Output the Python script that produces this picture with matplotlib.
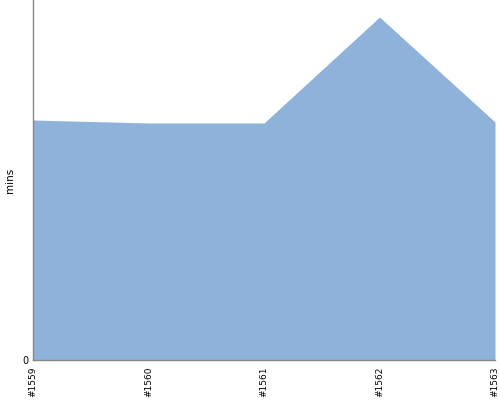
import matplotlib
matplotlib.use('Agg')
import matplotlib.pyplot as plt

builds = ['#1559', '#1560', '#1561', '#1562', '#1563']
mins = [24.0, 23.7, 23.7, 34.3, 23.8]

fig = plt.figure(figsize=(5, 4), dpi=100)
ax = fig.add_axes([0.066, 0.1, 0.924, 0.9])

x = range(len(builds))
ax.fill_between(x, mins, 0, color='#8fb2da', linewidth=0)

ax.set_xlim(0, len(builds) - 1)
ax.set_ylim(0, 36)
ax.set_xticks(list(x))
ax.set_xticklabels(builds, rotation=90, fontsize=6.5)
ax.set_yticks([0])
ax.set_yticklabels(['0'], fontsize=7)
ax.tick_params(axis='x', length=0, pad=5)
ax.tick_params(axis='y', length=0, pad=3)
ax.set_ylabel('mins', fontsize=7.5)
ax.yaxis.set_label_coords(-0.038, 0.5)

for s in ['top', 'right']:
    ax.spines[s].set_visible(False)
for s in ['left', 'bottom']:
    ax.spines[s].set_color('#888888')
    ax.spines[s].set_linewidth(1)

fig.savefig('out.png', dpi=100)
